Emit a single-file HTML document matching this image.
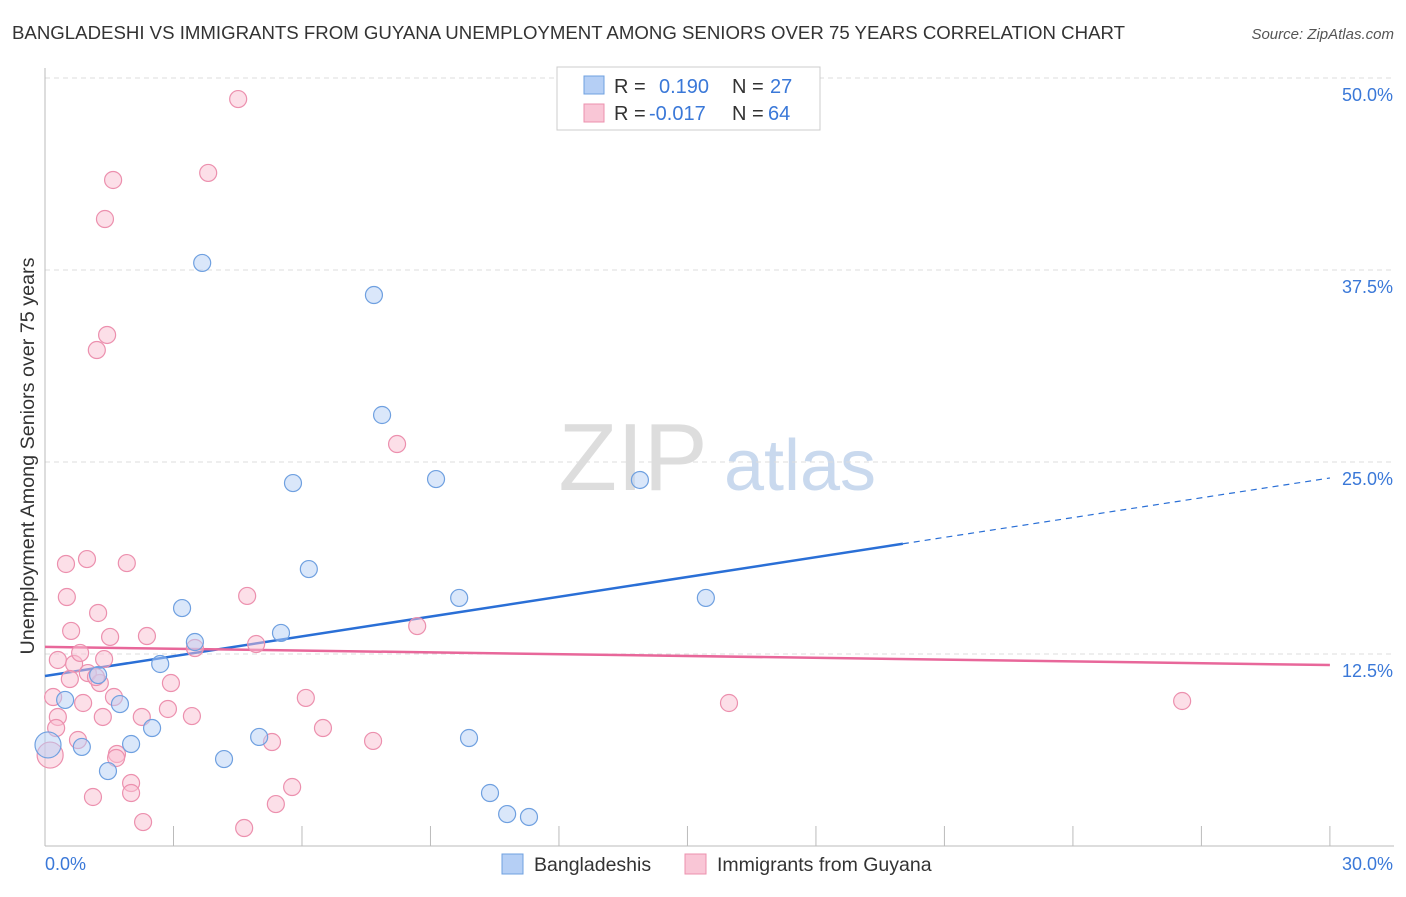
<!DOCTYPE html>
<html><head><meta charset="utf-8"><style>
body{margin:0;background:#fff;font-family:"Liberation Sans",sans-serif;}
svg text{font-family:"Liberation Sans",sans-serif;}
</style></head><body>
<svg id="chart" width="1406" height="892">
<text x="12" y="39" font-size="18.6" fill="#333" textLength="1113" lengthAdjust="spacingAndGlyphs">BANGLADESHI VS IMMIGRANTS FROM GUYANA UNEMPLOYMENT AMONG SENIORS OVER 75 YEARS CORRELATION CHART</text>
<text x="1394" y="39" font-size="15" fill="#555" font-style="italic" text-anchor="end">Source: ZipAtlas.com</text>
<text x="34" y="456" font-size="19" fill="#333" text-anchor="middle" transform="rotate(-90 34 456)" textLength="397" lengthAdjust="spacingAndGlyphs">Unemployment Among Seniors over 75 years</text>
<g><text x="633" y="490" font-size="96" fill="#ddd" font-family="Liberation Serif" text-anchor="middle">ZIP</text><text x="800" y="490" font-size="72" fill="#c9d9ee" text-anchor="middle">atlas</text></g>
<g id="grid"></g><g id="axes"></g><g id="lines"></g><g id="pts"></g>
<g>
<rect x="557" y="67" width="263" height="63" fill="#fff" stroke="#ccc"/>
<rect x="584" y="76" width="20" height="18" fill="#b5cff5" stroke="#6fa0e0"/>
<rect x="584" y="104" width="20" height="18" fill="#f9c6d6" stroke="#ec90ae"/>
<text x="614" y="93" font-size="20" fill="#333">R = </text><text x="659" y="93" font-size="20" fill="#3a78d8">0.190</text>
<text x="732" y="93" font-size="20" fill="#333">N = </text><text x="770" y="93" font-size="20" fill="#3a78d8">27</text>
<text x="614" y="120" font-size="20" fill="#333">R = </text><text x="649" y="120" font-size="20" fill="#3a78d8">-0.017</text>
<text x="732" y="120" font-size="20" fill="#333">N = </text><text x="768" y="120" font-size="20" fill="#3a78d8">64</text>
</g>
<g>
<rect x="502" y="854" width="21" height="20" fill="#b5cff5" stroke="#6fa0e0"/>
<text x="534" y="871" font-size="19.5" fill="#333">Bangladeshis</text>
<rect x="685" y="854" width="21" height="20" fill="#f9c6d6" stroke="#ec90ae"/>
<text x="717" y="871" font-size="19.5" fill="#333">Immigrants from Guyana</text>
</g>
</svg>
<script>
const yTicks=[12.5,25,37.5,50];
const yTickLabels=["12.5%","25.0%","37.5%","50.0%"];
const xTicks=[0,3,6,9,12,15,18,21,24,27,30];
const blueX=[3.67,7.68,7.87,5.79,9.13,13.89,6.16,9.67,15.43,3.20,5.51,3.50,2.69,1.24,0.47,1.75,2.50,5.00,9.90,2.01,0.86,4.18,1.47,10.39,10.79,11.30,0.07];
const blueY=[37.96,35.87,28.06,23.63,23.89,23.83,18.03,16.15,16.15,15.49,13.87,13.28,11.85,11.13,9.51,9.24,7.68,7.10,7.03,6.64,6.45,5.66,4.88,3.45,2.08,1.89,6.58];
const pinkX=[4.51,3.81,1.59,1.40,1.45,1.21,8.22,0.98,0.49,1.91,0.51,4.72,1.24,0.61,2.38,1.52,3.50,4.93,8.69,0.30,0.68,1.38,0.82,1.00,1.28,0.58,1.19,2.94,6.09,0.19,1.61,15.97,26.55,2.87,0.89,0.30,1.35,2.26,3.43,6.49,0.26,5.30,7.66,0.77,1.68,1.66,2.01,2.01,5.77,5.39,1.12,2.29,4.65,0.12];
const pinkY=[48.63,43.82,43.36,40.82,33.27,32.29,26.17,18.68,18.36,18.42,16.21,16.28,15.17,14.00,13.67,13.61,12.89,13.15,14.32,12.11,11.85,12.17,12.57,11.26,10.61,10.87,11.00,10.61,9.64,9.70,9.70,9.31,9.44,8.92,9.31,8.40,8.40,8.40,8.46,7.68,7.68,6.77,6.84,6.90,5.99,5.73,4.10,3.45,3.84,2.73,3.19,1.56,1.17,5.92];
const blueTrend=[11.07,23.96]; const blueSolidEnd=20.03;
const pinkTrend=[12.96,11.78];
const NS="http://www.w3.org/2000/svg";
const X=v=>45+v*42.83, Y=v=>846-v*15.36;
function mk(p,t,a){const e=document.createElementNS(NS,t);for(const k in a)e.setAttribute(k,a[k]);document.getElementById(p).appendChild(e);return e;}
yTicks.forEach((t,i)=>{
 const g=mk('grid','line',{x1:45,x2:1394,y1:Y(t),y2:Y(t),stroke:'#ddd','stroke-dasharray':'5,4'});
 
 
 const l=mk('axes','text',{x:1393,y:Y(t)+23,'font-size':18,fill:'#3a78d8','text-anchor':'end'});
 l.textContent=yTickLabels[i];
 
 
});
const ax=mk('axes','line',{x1:45,x2:1394,y1:846,y2:846,stroke:'#bbb'});


const ay=mk('axes','line',{x1:45,x2:45,y1:68,y2:846,stroke:'#bbb'});


xTicks.forEach(t=>{const e=mk('axes','line',{x1:X(t),x2:X(t),y1:826,y2:846,stroke:'#bbb'});
 
 });
const x0=mk('axes','text',{x:45,y:870,'font-size':18,fill:'#3a78d8'});x0.textContent='0.0%';


const x1=mk('axes','text',{x:1393,y:870,'font-size':18,fill:'#3a78d8','text-anchor':'end'});x1.textContent='30.0%';


function pts(xs,ys,fill,stroke,name){xs.forEach((x,i)=>{const big=(x<0.15&&name==='point-guyana')||(x<0.1&&name==='point-bangladeshi');
 const c=mk('pts','circle',{cx:X(x),cy:Y(ys[i]),r:big?13:8.5,fill:fill,'fill-opacity':0.5,stroke:stroke,'stroke-width':1.2});
 
 });}
pts(pinkX,pinkY,'#f9c0d2','#ec90ae','point-guyana');
pts(blueX,blueY,'#b5cff5','#6fa0e0','point-bangladeshi');
const bs=blueTrend[0]+(blueTrend[1]-blueTrend[0])*blueSolidEnd/30;
const b1=mk('lines','line',{x1:X(0),y1:Y(blueTrend[0]),x2:X(blueSolidEnd),y2:Y(bs),stroke:'#2a6fd6','stroke-width':2.5});


const b2=mk('lines','line',{x1:X(blueSolidEnd),y1:Y(bs),x2:X(30),y2:Y(blueTrend[1]),stroke:'#2a6fd6','stroke-width':1.2,'stroke-dasharray':'6,5'});


const p1=mk('lines','line',{x1:X(0),y1:Y(pinkTrend[0]),x2:X(30),y2:Y(pinkTrend[1]),stroke:'#e8679a','stroke-width':2.5});


</script>
</body></html>
